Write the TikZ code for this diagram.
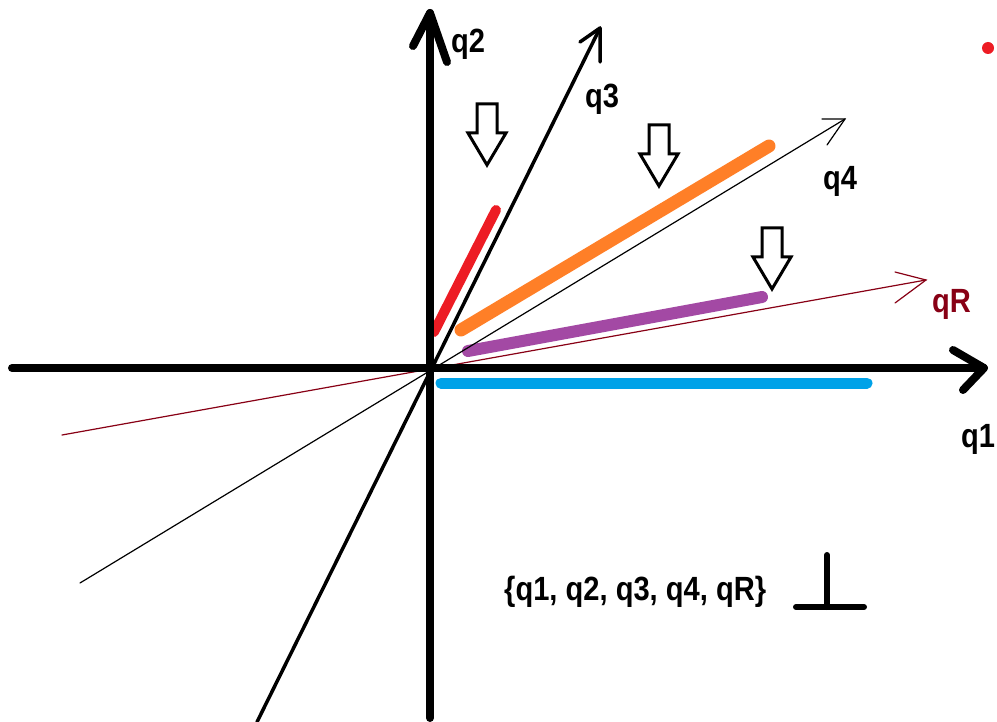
\documentclass[tikz,border=0pt]{standalone}
\usepackage{fontspec}
\setmainfont{Liberation Sans}
\definecolor{qred}{RGB}{237,28,36}
\definecolor{qorange}{RGB}{255,127,39}
\definecolor{qpurple}{RGB}{163,73,164}
\definecolor{qblue}{RGB}{0,162,232}
\definecolor{qdark}{RGB}{136,0,21}
\newcommand{\tallt}[1]{\scalebox{0.97}[1.12]{#1}}
\tikzset{
  axis/.style={line width=8pt, line cap=round, line join=round},
  thickline/.style={line width=3.5pt, line cap=round, line join=round},
  thinline/.style={line width=1.2pt, line cap=round},
  seg/.style={line cap=round},
  lbl/.style={font=\bfseries\fontsize{30}{32}\selectfont, inner sep=0pt, anchor=base west},
  blockarrow/.style={line width=3pt, line join=miter, fill=white},
}
\newcommand{\downarrowblock}[3]{% x left of shaft, top y, name
  \draw[blockarrow] (#1,#2) -- ++(20,0) -- ++(0,29) -- ++(9,0) -- ++(-19,32) -- ++(-19,-32) -- ++(9,0) -- cycle;
}
\begin{document}
\begin{tikzpicture}[x=1pt,y=-1pt]
\useasboundingbox (0,0) rectangle (997,722);
\fill[white] (0,0) rectangle (997,722);
% coordinates
\coordinate (O) at (430,368);
\coordinate (xl) at (12,368);
\coordinate (xr) at (984,368);
\coordinate (yb) at (430,718);
\coordinate (yt) at (430,13);
\coordinate (q3b) at (257,722);
\coordinate (q3t) at (600,28);
\coordinate (q4b) at (80,583);
\coordinate (q4t) at (845,119);
\coordinate (qRb) at (62,435);
\coordinate (qRt) at (926,280);
% highlighted segments
\draw[seg, qblue, line width=11pt] (441,383) -- (867,383);
\draw[seg, qorange, line width=13pt] (461,330) -- (769,146);
\draw[seg, qpurple, line width=12pt] (468,351) -- (762,297);
\draw[seg, qred, line width=10pt] (434,332) -- (496,210);
% thin lines
\draw[thinline, qdark] (qRb) -- (qRt);
\draw[thinline, qdark] (895,272) -- (qRt) -- (895,303);
\draw[thinline, black] (q4b) -- (q4t);
\draw[thinline, black] (822,119) -- (q4t) -- (827,145);
% q3
\draw[thickline] (q3b) -- (q3t);
\draw[thickline] (580,42) -- (q3t) -- (600,62);
% axes
\draw[axis] (xl) -- (xr);
\draw[axis] (953,350) -- (xr) -- (963,390);
\draw[axis] (yb) -- (yt);
\draw[axis] (413,46) -- (yt) -- (447,62);
% block arrows
\downarrowblock{477}{104}{a}
\downarrowblock{649}{125}{b}
\downarrowblock{762}{228}{c}
% labels
\node[lbl] (lq2) at (451,53) {\tallt{q2}};
\node[lbl] (lq3) at (585,108) {\tallt{q3}};
\node[lbl] (lq4) at (823,190) {\tallt{q4}};
\node[lbl, text=qdark] (lqR) at (932,313) {\tallt{qR}};
\node[lbl] (lq1) at (961,447) {\tallt{q1}};
\node[lbl] (set) at (504,600) {\tallt{\{q1, q2, q3, q4, qR\}}};
% perpendicular symbol
\draw[line width=6pt, line cap=round] (827,555) -- (827,607);
\draw[line width=6pt, line cap=round] (796,607) -- (864,607);
% red dot
\fill[qred] (988,48) circle (6);
\end{tikzpicture}
\end{document}
